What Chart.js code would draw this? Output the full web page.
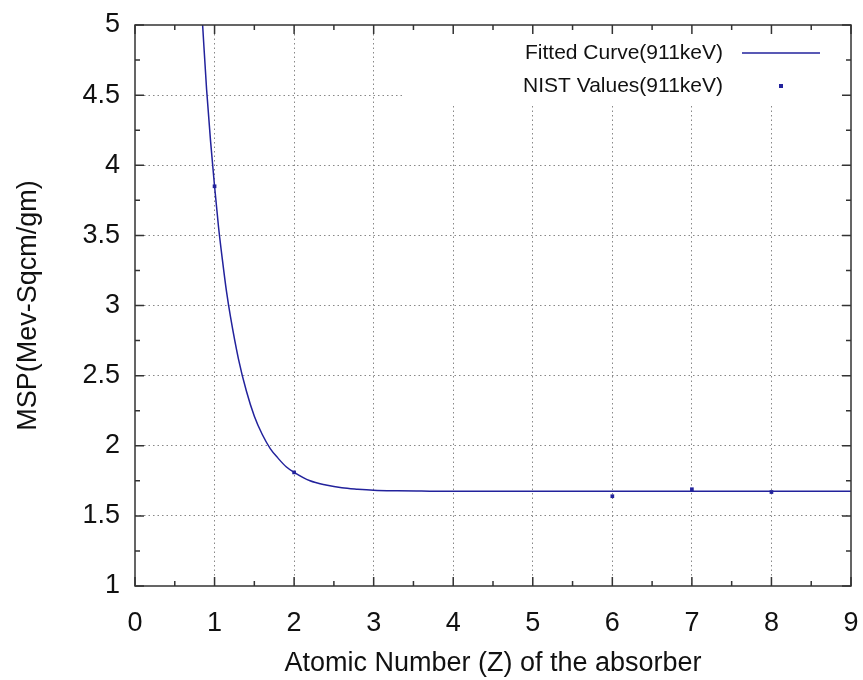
<!DOCTYPE html>
<html lang="en">

<head>
    <meta charset="UTF-8">
    <script src="https://cdn.jsdelivr.net/npm/chart.js"></script>
    <title>MSP vs Z</title>
    <style>
        body { margin: 0; background: #fff; }
        #wrap { width: 863px; height: 680px; }
    </style>
</head>

<body>
    <div id="wrap">
        <canvas id="mspChart" width="863" height="680"></canvas>
    </div>
</body>

</html>

<script>
    // NIST values (911 keV)
    const nistZ = [1, 2, 6, 7, 8];
    const nistMsp = [3.85, 1.81, 1.64, 1.69, 1.67];

    // fitted curve
    const fitZ = [0.85, 0.9, 0.95, 1.0, 1.05, 1.1, 1.15, 1.2, 1.3, 1.4, 1.5, 1.6, 1.7, 1.8, 1.9, 2.0, 2.2, 2.4, 2.6, 2.8, 3.0, 3.3, 3.6, 4, 5, 6, 7, 8, 9];
    const fitMsp = [5.0, 4.54, 4.17, 3.85, 3.56, 3.32, 3.10, 2.92, 2.62, 2.39, 2.21, 2.08, 1.98, 1.91, 1.85, 1.81, 1.75, 1.72, 1.70, 1.69, 1.683, 1.679, 1.677, 1.675, 1.675, 1.675, 1.675, 1.675, 1.675];

    const xTicks = [0, 1, 2, 3, 4, 5, 6, 7, 8, 9];
    const yTicks = [1, 1.5, 2, 2.5, 3, 3.5, 4, 4.5, 5];

    const legendLabels = ['Fitted Curve(911keV)', 'NIST Values(911keV)'];

    const lineColor = '#22229c';
    const fontFam = '"Liberation Sans", Arial, sans-serif';

    // frame, inward ticks (gnuplot style) and the legend box
    const gnuFrame = {
        id: 'gnuFrame',
        afterDraw(chart) {
            const ctx = chart.ctx;
            const a = chart.chartArea;
            const xs = chart.scales.x, ys = chart.scales.y;
            ctx.save();

            // white legend box covering the grid
            ctx.fillStyle = '#fff';
            ctx.fillRect(405, a.top + 1, a.right - 406, 102 - a.top);

            ctx.strokeStyle = '#333';
            ctx.lineWidth = 1.5;
            ctx.strokeRect(a.left, a.top, a.right - a.left, a.bottom - a.top);

            ctx.beginPath();
            for (let v = 0; v <= 9; v += 0.5) {
                const px = xs.getPixelForValue(v);
                const len = Number.isInteger(v) ? 9 : 5;
                ctx.moveTo(px, a.bottom); ctx.lineTo(px, a.bottom - len);
                ctx.moveTo(px, a.top); ctx.lineTo(px, a.top + len);
            }
            for (let v = 1; v <= 5; v += 0.25) {
                const py = ys.getPixelForValue(v);
                const len = (v * 2) % 1 === 0 ? 9 : 5;
                ctx.moveTo(a.left, py); ctx.lineTo(a.left + len, py);
                ctx.moveTo(a.right, py); ctx.lineTo(a.right - len, py);
            }
            ctx.stroke();

            // legend
            ctx.font = '21px ' + fontFam;
            ctx.fillStyle = '#111';
            ctx.textAlign = 'right';
            ctx.textBaseline = 'middle';
            ctx.fillText(legendLabels[0], 723, 53);
            ctx.fillText(legendLabels[1], 723, 86);
            ctx.strokeStyle = lineColor;
            ctx.lineWidth = 1.5;
            ctx.beginPath();
            ctx.moveTo(742, 53); ctx.lineTo(820, 53);
            ctx.stroke();
            ctx.fillStyle = lineColor;
            ctx.fillRect(779, 84, 4, 4);

            ctx.restore();
        }
    };

    const gridColor = function (ctx) {
        const v = ctx.tick && ctx.tick.value;
        const s = ctx.scale;
        if (v === s.min || v === s.max) return 'rgba(0,0,0,0)';
        return '#888';
    };

    const dados = {
        datasets: [{
            label: legendLabels[0],
            data: fitZ.map((z, i) => ({ x: z, y: fitMsp[i] })),
            borderColor: lineColor,
            backgroundColor: lineColor,
            borderWidth: 1.5,
            pointRadius: 0,
            cubicInterpolationMode: 'monotone',
            fill: false
        }, {
            label: legendLabels[1],
            type: 'scatter',
            data: nistZ.map((z, i) => ({ x: z, y: nistMsp[i] })),
            borderColor: lineColor,
            backgroundColor: lineColor,
            pointStyle: 'rect',
            pointRadius: 2.6,
            borderWidth: 0,
            showLine: false
        }]
    };

    const config = {
        type: 'line',
        data: dados,
        plugins: [gnuFrame],
        options: {
            responsive: false,
            animation: false,
            layout: { padding: { left: 0, top: 25, right: 12, bottom: 0 } },
            plugins: {
                legend: { display: false },
                tooltip: { enabled: false }
            },
            scales: {
                x: {
                    type: 'linear',
                    min: 0, max: 9,
                    afterBuildTicks: s => { s.ticks = xTicks.map(v => ({ value: v })); },
                    afterFit: s => { s.height = 94; s.paddingLeft = 0; s.paddingRight = 0; },
                    ticks: {
                        padding: 21,
                        color: '#111',
                        font: { family: fontFam, size: 27 },
                        callback: v => String(v)
                    },
                    grid: { color: gridColor, lineWidth: 1, drawTicks: false },
                    border: { display: false, dash: [1.5, 3] },
                    title: {
                        display: true,
                        text: 'Atomic Number (Z) of the absorber',
                        color: '#111',
                        font: { family: fontFam, size: 27 },
                        padding: { top: 0, bottom: 0 }
                    }
                },
                y: {
                    type: 'linear',
                    min: 1, max: 5,
                    afterBuildTicks: s => { s.ticks = yTicks.map(v => ({ value: v })); },
                    afterFit: s => { s.width = 135; s.paddingTop = 0; s.paddingBottom = 0; },
                    ticks: {
                        padding: 15,
                        color: '#111',
                        font: { family: fontFam, size: 27 },
                        callback: v => String(v)
                    },
                    grid: { color: gridColor, lineWidth: 1, drawTicks: false },
                    border: { display: false, dash: [1.5, 3] },
                    title: {
                        display: true,
                        text: 'MSP(Mev-Sqcm/gm)',
                        color: '#111',
                        font: { family: fontFam, size: 27 },
                        padding: { top: 12, bottom: 0 }
                    }
                }
            }
        }
    };

    let myChart = new Chart(document.getElementById('mspChart'), config);
</script>
